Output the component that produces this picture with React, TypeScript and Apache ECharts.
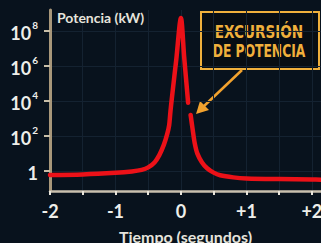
import React, { useEffect, useRef } from "react";
import * as echarts from "echarts";

// Time (s) and log10(power, kW)
const riseTime = [-2.0, -1.5, -1.0, -0.75, -0.6, -0.5, -0.4, -0.33, -0.26, -0.21, -0.18, -0.16, -0.14, -0.07, 0, 0.05, 0.11];
const riseLogPower = [-0.23, -0.2, -0.11, -0.03, 0.06, 0.2, 0.5, 0.9, 1.5, 2.1, 2.6, 3.4, 4.1, 6.4, 8.74, 6.5, 3.9];
const decayTime = [0.148, 0.18, 0.21, 0.25, 0.32, 0.4, 0.5, 0.6, 0.8, 1.0, 1.5, 2.0, 2.14];
const decayLogPower = [3.2, 2.35, 1.6, 1.0, 0.5, 0.15, -0.1, -0.25, -0.37, -0.43, -0.47, -0.49, -0.5];

const xTickValues = [-2, -1.5, -1, -0.5, 0, 0.5, 1, 1.5, 2];
const xLabelValues = [-2, -1, 0, 1, 2];
const yLabelExponents = [0, 2, 4, 6, 8];

const annotationLines = ["EXCURSIÓN", "DE POTENCIA"];

const BG = "#08121d";
const RED = "#ec1118";
const GOLD = "#f0b03c";

export default function App() {
  const ref = useRef<HTMLDivElement>(null);

  useEffect(() => {
    document.body.style.margin = "0";
    if (!ref.current) return;
    const chart = echarts.init(ref.current, undefined, { renderer: "svg" });

    const lineStyle = { color: RED, width: 4.5, cap: "round" as const, join: "round" as const };

    chart.setOption({
      animation: false,
      backgroundColor: BG,
      grid: { left: 50, right: 0, top: 10, bottom: 52, containLabel: false, outerBoundsMode: "none" },
      xAxis: {
        type: "value",
        min: -2,
        max: 2.14,
        name: "Tiempo (segundos)",
        nameLocation: "middle",
        nameGap: 37,
        nameTextStyle: { color: "#e6e4dc", fontFamily: "Lato", fontWeight: "bold", fontSize: 16 },
        axisLine: { show: true, onZero: false, lineStyle: { color: "#c9c0ae", width: 2.5 } },
        axisTick: { show: true, customValues: xTickValues, length: 4, lineStyle: { color: "#e8e4da", width: 2 } },
        axisLabel: {
          customValues: xLabelValues,
          margin: 11,
          color: "#eeeeea",
          fontFamily: "Lato",
          fontWeight: "bold",
          fontSize: 18,
          formatter: (v: number) => (v > 0 ? "+" + v : v < 0 ? "-" + Math.abs(v) : "0"),
        },
        splitLine: { show: true, lineStyle: { color: "#142231", width: 1 } },
      },
      yAxis: {
        type: "value",
        min: -1.15,
        max: 9.2,
        name: "Potencia (kW)",
        nameLocation: "end",
        nameGap: -7,
        nameTextStyle: {
          color: "#e6e4dc",
          fontFamily: "Lato",
          fontWeight: "bold",
          fontSize: 14,
          align: "left",
          verticalAlign: "middle",
          padding: [0, 0, 0, 7],
        },
        axisLine: { show: true, onZero: false, lineStyle: { color: "#a8977a", width: 3 } },
        axisTick: { show: true, customValues: yLabelExponents, length: 6, lineStyle: { color: "#c8bea8", width: 2 } },
        axisLabel: {
          customValues: yLabelExponents,
          margin: 12,
          color: "#eeeeea",
          formatter: (v: number) => (v === 0 ? "{b|1}" : "{b|10}{s|" + v + "}"),
          rich: {
            b: { fontFamily: "Lato", fontWeight: "bold", fontSize: 18, color: "#eeeeea", lineHeight: 22, verticalAlign: "bottom" },
            s: { fontFamily: "Lato", fontWeight: "bold", fontSize: 10, color: "#eeeeea", lineHeight: 22, verticalAlign: "top", padding: [0, 0, 0, 1] },
          },
        },
        splitLine: { show: true, lineStyle: { color: "#142231", width: 1 } },
      },
      series: [
        {
          type: "line",
          data: riseTime.map((t, i) => [t, riseLogPower[i]]),
          smooth: 0.3,
          showSymbol: false,
          lineStyle,
        },
        {
          type: "line",
          data: decayTime.map((t, i) => [t, decayLogPower[i]]),
          smooth: 0.3,
          showSymbol: false,
          lineStyle,
        },
      ],
      graphic: [
        {
          type: "rect",
          shape: { x: 201, y: 12, width: 118, height: 57 },
          style: { fill: "rgba(6,10,14,0.6)", stroke: GOLD, lineWidth: 2 },
        },
        {
          type: "text",
          x: 259,
          y: 32,
          scaleX: 0.84,
          style: {
            text: annotationLines[0],
            fill: GOLD,
            font: "bold 18px 'DejaVu Sans Condensed', 'DejaVu Sans'",
            textAlign: "center",
            textVerticalAlign: "middle",
          },
        },
        {
          type: "text",
          x: 259,
          y: 51,
          scaleX: 0.76,
          style: {
            text: annotationLines[1],
            fill: GOLD,
            font: "bold 18px 'DejaVu Sans Condensed', 'DejaVu Sans'",
            textAlign: "center",
            textVerticalAlign: "middle",
          },
        },
        {
          type: "line",
          shape: { x1: 242, y1: 70, x2: 203, y2: 107 },
          style: { stroke: "#f2a22e", lineWidth: 2.5 },
        },
        {
          type: "polygon",
          shape: { points: [[196, 114], [200, 101], [209, 110]] },
          style: { fill: "#f2a22e" },
        },
      ],
    });

    return () => chart.dispose();
  }, []);

  return <div ref={ref} style={{ width: 321, height: 243 }} />;
}
